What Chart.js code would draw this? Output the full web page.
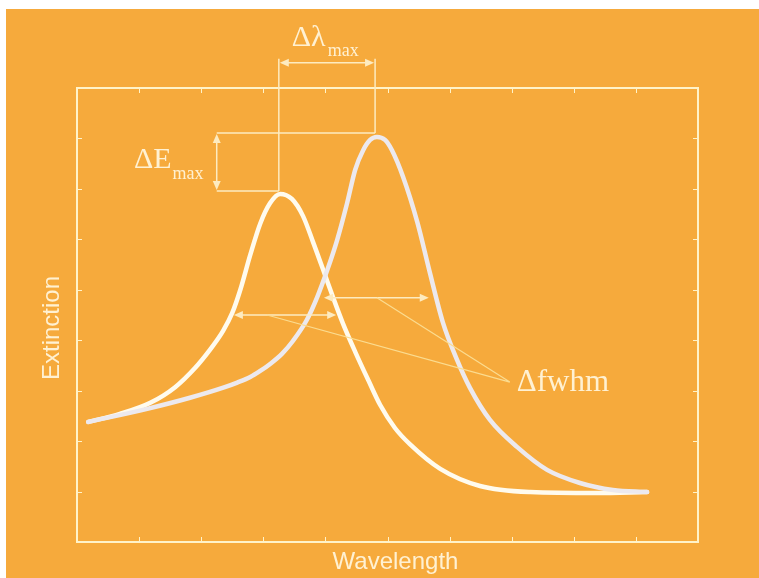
<!DOCTYPE html>
<html>
<head>
<meta charset="utf-8">
<style>
  html, body { margin: 0; padding: 0; background: #ffffff; }
  #wrap { width: 759px; height: 578px; }
</style>
<script src="https://cdn.jsdelivr.net/npm/chart.js@4/dist/chart.umd.min.js"></script>
</head>
<body>
<div id="wrap"><canvas id="c" width="759" height="578"></canvas></div>
<script>
// ---- data (axis units: wavelength 0..10, extinction 0..9) ----
const xTicks = [1, 2, 3, 4, 5, 6, 7, 8, 9];
const yTicks = [1, 2, 3, 4, 5, 6, 7, 8];

const spectrumA = [ // narrower, lower peak (white)
  [0.18, 2.38], [0.69, 2.54], [1.18, 2.76], [1.58, 3.07], [1.90, 3.45],
  [2.14, 3.81], [2.35, 4.18], [2.50, 4.54], [2.63, 5.00], [2.79, 5.69],
  [2.95, 6.31], [3.11, 6.72], [3.27, 6.90], [3.46, 6.80], [3.64, 6.46],
  [3.80, 5.95], [3.96, 5.41], [4.12, 4.86], [4.28, 4.34], [4.48, 3.77],
  [4.69, 3.21], [4.88, 2.72], [5.12, 2.26], [5.36, 1.94], [5.85, 1.45],
  [6.49, 1.11], [7.30, 0.99], [8.37, 0.97], [9.18, 0.99]
];
const spectrumB = [ // red-shifted, higher peak (light grey)
  [0.18, 2.38], [1.13, 2.64], [1.82, 2.86], [2.38, 3.07], [2.58, 3.16],
  [2.79, 3.27], [2.95, 3.39], [3.11, 3.53], [3.30, 3.73], [3.48, 3.99],
  [3.70, 4.40], [3.87, 4.86], [4.03, 5.39], [4.19, 5.99], [4.35, 6.72],
  [4.48, 7.38], [4.61, 7.77], [4.72, 7.97], [4.83, 8.03], [4.96, 7.97],
  [5.07, 7.77], [5.25, 7.24], [5.48, 6.34], [5.68, 5.35], [5.89, 4.36],
  [6.12, 3.61], [6.33, 3.05], [6.65, 2.42], [7.09, 1.88], [7.57, 1.43],
  [8.10, 1.17], [8.63, 1.03], [9.18, 0.99]
];

// annotation geometry in axis units
const dLambda = { x1: 3.25, x2: 4.80, y: 9.50 };           // Δλmax arrow
const dE = { x: 2.25, yTop: 8.11, yBottom: 6.96 };        // ΔEmax arrow
const fwhmA = { x1: 2.51, x2: 4.19, y: 4.50 };            // fwhm arrow of spectrum A
const fwhmB = { x1: 3.96, x2: 5.68, y: 4.84 };            // fwhm arrow of spectrum B
const fwhmPointers = [[3.06, 4.50], [4.83, 4.84]];
const fwhmTarget = [6.97, 3.17];
const labels = {
  dLambda: ["Δλ", "max"],
  dE: ["ΔE", "max"],
  fwhm: "Δfwhm",
  x: "Wavelength",
  y: "Extinction"
};

const ORANGE = "#F6AA3C";
const FRAME = "#FFF3C9";
const TEXT = "#FFF1D2";
const ANNO = "#FDEBC0";
const POINTER = "#FBDC90";

function arrowHead(ctx, x, y, dir, len, half) {
  ctx.beginPath();
  if (dir === 'r') { ctx.moveTo(x, y); ctx.lineTo(x - len, y - half); ctx.lineTo(x - len, y + half); }
  if (dir === 'l') { ctx.moveTo(x, y); ctx.lineTo(x + len, y - half); ctx.lineTo(x + len, y + half); }
  if (dir === 'u') { ctx.moveTo(x, y); ctx.lineTo(x - half, y + len); ctx.lineTo(x + half, y + len); }
  if (dir === 'd') { ctx.moveTo(x, y); ctx.lineTo(x - half, y - len); ctx.lineTo(x + half, y - len); }
  ctx.closePath();
  ctx.fill();
}

const bgPlugin = {
  id: 'bg',
  beforeDraw(chart) {
    const ctx = chart.ctx;
    ctx.save();
    ctx.fillStyle = "#ffffff";
    ctx.fillRect(0, 0, chart.width, chart.height);
    ctx.fillStyle = ORANGE;
    ctx.fillRect(6, 9, chart.width - 6, chart.height - 9);
    ctx.restore();
  },
  beforeDatasetsDraw(chart) {
    const { ctx, chartArea: a, scales: { x, y } } = chart;
    ctx.save();
    ctx.strokeStyle = FRAME;
    ctx.lineWidth = 2;
    ctx.strokeRect(a.left, a.top, a.right - a.left, a.bottom - a.top);
    ctx.lineWidth = 1;
    ctx.beginPath();
    xTicks.forEach(v => {
      const px = Math.round(x.getPixelForValue(v)) + 0.5;
      ctx.moveTo(px, a.bottom); ctx.lineTo(px, a.bottom - 5);
      ctx.moveTo(px, a.top); ctx.lineTo(px, a.top + 5);
    });
    yTicks.forEach(v => {
      const py = Math.round(y.getPixelForValue(v)) + 0.5;
      ctx.moveTo(a.left, py); ctx.lineTo(a.left + 5, py);
      ctx.moveTo(a.right, py); ctx.lineTo(a.right - 5, py);
    });
    ctx.stroke();
    ctx.fillStyle = TEXT;
    ctx.font = "24px 'Liberation Sans', Arial, sans-serif";
    ctx.textAlign = "center";
    ctx.textBaseline = "middle";
    ctx.fillText(labels.x, (a.left + a.right) / 2 + 8, 562);
    ctx.save();
    ctx.translate(52, 328);
    ctx.rotate(-Math.PI / 2);
    ctx.fillText(labels.y, 0, 0);
    ctx.restore();
    ctx.restore();
  },
  afterDatasetsDraw(chart) {
    const { ctx, scales: { x, y } } = chart;
    const X = v => x.getPixelForValue(v), Y = v => y.getPixelForValue(v);
    ctx.save();
    ctx.strokeStyle = ANNO;
    ctx.fillStyle = ANNO;
    ctx.lineWidth = 1.5;

    ctx.beginPath();
    ctx.moveTo(X(dLambda.x1), Y(dE.yBottom)); ctx.lineTo(X(dLambda.x1), Y(dLambda.y) - 4);
    ctx.moveTo(X(dLambda.x2), Y(dE.yTop)); ctx.lineTo(X(dLambda.x2), Y(dLambda.y) - 4);
    ctx.moveTo(X(dLambda.x1) + 6, Y(dLambda.y)); ctx.lineTo(X(dLambda.x2) - 6, Y(dLambda.y));
    ctx.stroke();
    arrowHead(ctx, X(dLambda.x1) + 1, Y(dLambda.y), 'l', 9, 4);
    arrowHead(ctx, X(dLambda.x2) - 1, Y(dLambda.y), 'r', 9, 4);

    ctx.beginPath();
    ctx.moveTo(X(dE.x), Y(dE.yTop)); ctx.lineTo(X(dLambda.x2), Y(dE.yTop));
    ctx.moveTo(X(dE.x), Y(dE.yBottom)); ctx.lineTo(X(dLambda.x1), Y(dE.yBottom));
    ctx.moveTo(X(dE.x), Y(dE.yTop) + 6); ctx.lineTo(X(dE.x), Y(dE.yBottom) - 6);
    ctx.stroke();
    arrowHead(ctx, X(dE.x), Y(dE.yTop) + 1, 'u', 9, 4);
    arrowHead(ctx, X(dE.x), Y(dE.yBottom) - 1, 'd', 9, 4);

    [fwhmA, fwhmB].forEach(f => {
      ctx.beginPath();
      ctx.moveTo(X(f.x1) + 6, Y(f.y)); ctx.lineTo(X(f.x2) - 6, Y(f.y));
      ctx.stroke();
      arrowHead(ctx, X(f.x1) + 1, Y(f.y), 'l', 9, 4);
      arrowHead(ctx, X(f.x2) - 1, Y(f.y), 'r', 9, 4);
    });

    ctx.strokeStyle = POINTER;
    ctx.lineWidth = 1.2;
    ctx.beginPath();
    fwhmPointers.forEach(p => {
      ctx.moveTo(X(p[0]), Y(p[1]));
      ctx.lineTo(X(fwhmTarget[0]), Y(fwhmTarget[1]));
    });
    ctx.stroke();

    ctx.fillStyle = TEXT;
    ctx.textAlign = "left";
    ctx.textBaseline = "alphabetic";
    const serif = sz => sz + "px 'Liberation Serif', 'Times New Roman', serif";
    ctx.font = serif(30);
    ctx.fillText(labels.dLambda[0], X(dLambda.x1) + 13, 46);
    let w = ctx.measureText(labels.dLambda[0]).width;
    ctx.font = serif(18);
    ctx.fillText(labels.dLambda[1], X(dLambda.x1) + 13 + w + 2, 56);
    ctx.font = serif(30);
    ctx.fillText(labels.dE[0], 134, 168);
    w = ctx.measureText(labels.dE[0]).width;
    ctx.font = serif(18);
    ctx.fillText(labels.dE[1], 134 + w + 1, 179);
    ctx.font = serif(31);
    ctx.fillText(labels.fwhm, X(fwhmTarget[0]) + 7, 391);
    ctx.restore();
  }
};

const toPts = arr => arr.map(p => ({ x: p[0], y: p[1] }));

new Chart(document.getElementById('c'), {
  type: 'line',
  data: {
    datasets: [
      {
        data: toPts(spectrumB),
        borderColor: "#ECE9EE",
        borderWidth: 4.5,
        pointRadius: 0,
        cubicInterpolationMode: 'monotone',
        borderCapStyle: 'round',
        borderJoinStyle: 'round',
        fill: false
      },
      {
        data: toPts(spectrumA),
        borderColor: "#FFFBEE",
        borderWidth: 4.5,
        pointRadius: 0,
        cubicInterpolationMode: 'monotone',
        borderCapStyle: 'round',
        borderJoinStyle: 'round',
        fill: false
      }
    ]
  },
  options: {
    responsive: false,
    animation: false,
    devicePixelRatio: 1,
    layout: { padding: { left: 77, top: 88, right: 61, bottom: 36 } },
    plugins: { legend: { display: false }, tooltip: { enabled: false } },
    scales: {
      x: { type: 'linear', min: 0, max: 10, display: false },
      y: { type: 'linear', min: 0, max: 9, display: false }
    }
  },
  plugins: [bgPlugin]
});
</script>
</body>
</html>
